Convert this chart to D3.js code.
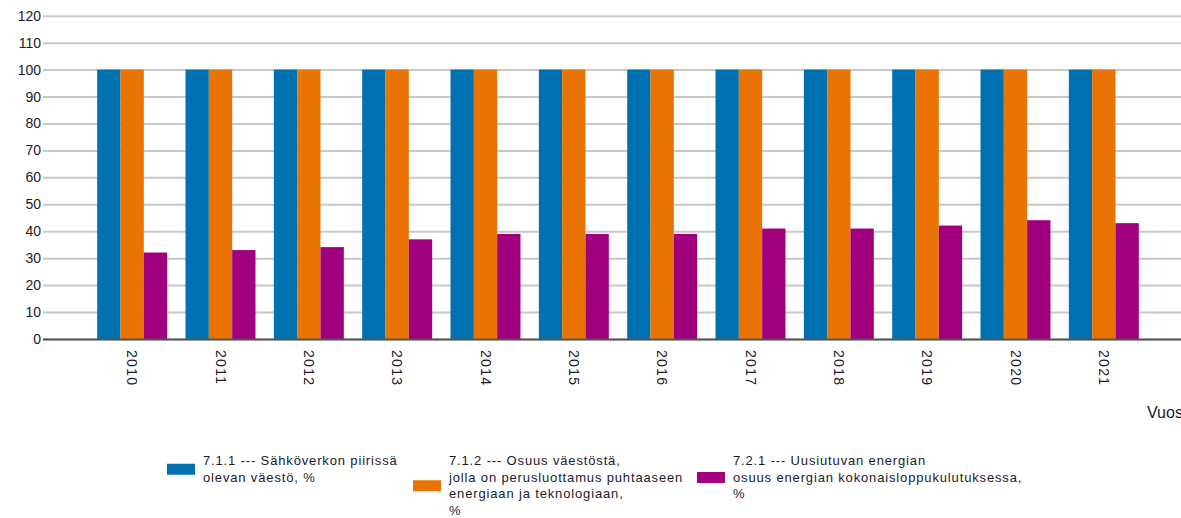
<!DOCTYPE html>
<html>
<head>
<meta charset="utf-8">
<script src="https://cdn.jsdelivr.net/npm/d3@7"></script>
<style>
  html, body { margin: 0; padding: 0; background: #fff; }
  svg { display: block; }
</style>
</head>
<body>
<div id="chart"></div>
<script>
const years = ["2010","2011","2012","2013","2014","2015","2016","2017","2018","2019","2020","2021"];
const seriesNames = [
  ["7.1.1 --- Sähköverkon piirissä", "olevan väestö, %"],
  ["7.1.2 --- Osuus väestöstä,", "jolla on perusluottamus puhtaaseen", "energiaan ja teknologiaan,", "%"],
  ["7.2.1 --- Uusiutuvan energian", "osuus energian kokonaisloppukulutuksessa,", "%"]
];
const s711 = [100,100,100,100,100,100,100,100,100,100,100,100];
const s712 = [100,100,100,100,100,100,100,100,100,100,100,100];
const s721 = [32.1,33.0,34.1,37.0,39.0,39.0,39.0,41.0,41.0,42.1,44.1,43.0];
const yTicks = [0,10,20,30,40,50,60,70,80,90,100,110,120];
const colors = ["#0071B0","#EA7403","#A0007E"];
const xTitle = "Vuosi";

const W = 1181, H = 518;
const svg = d3.select("#chart").append("svg").attr("width", W).attr("height", H);

const series = [s711, s712, s721];
const y = d3.scaleLinear().domain([0,120]).range([339, 15.7]);
const x0 = d3.scaleBand().domain(years).range([88, 1148]).paddingInner(0.208).paddingOuter(0.104);
const x1 = d3.scaleBand().domain([0,1,2]).range([0, x0.bandwidth()]);

const font = "'Liberation Sans', Arial, sans-serif";

// gridlines
const grid = svg.append("g").attr("transform", "translate(43,0)")
  .call(d3.axisLeft(y).tickValues(yTicks).tickSize(-(W - 43)).tickFormat(""));
grid.select(".domain").remove();
grid.selectAll("line").attr("stroke", "#c8c8c8").attr("stroke-width", 2);

// y labels
const yAxis = svg.append("g").attr("transform", "translate(41,0)")
  .call(d3.axisLeft(y).tickValues(yTicks).tickSize(0).tickPadding(0));
yAxis.select(".domain").remove();
yAxis.selectAll("text").attr("font-family", font).attr("font-size", 14).attr("fill", "#1a1a2a");

// bars
const groups = svg.append("g").selectAll("g").data(years).join("g")
  .attr("transform", d => `translate(${x0(d)},0)`);
groups.selectAll("rect").data((d, i) => series.map((s, k) => ({k, v: s[i]}))).join("rect")
  .attr("x", d => x1(d.k))
  .attr("width", x1.bandwidth())
  .attr("y", d => y(d.v))
  .attr("height", d => y(0) - y(d.v))
  .attr("fill", d => colors[d.k]);

// x axis line
svg.append("line").attr("x1", 43).attr("x2", W).attr("y1", 339.5).attr("y2", 339.5)
  .attr("stroke", "#555").attr("stroke-width", 2);

// x labels
const xAxis = svg.append("g").attr("transform", "translate(0,340)")
  .call(d3.axisBottom(x0).tickSize(0).tickPadding(0));
xAxis.select(".domain").remove();
xAxis.selectAll("text")
  .attr("font-family", font).attr("font-size", 14).attr("fill", "#1a1a2a")
  .attr("letter-spacing", 1.3)
  .attr("text-anchor", "start").attr("dy", null).attr("y", 0)
  .attr("dominant-baseline", "central")
  .attr("transform", "translate(0,10) rotate(90)");

svg.append("text").attr("x", 1147).attr("y", 418).text(xTitle)
  .attr("font-family", font).attr("font-size", 16).attr("fill", "#1a1a2a");

// legend
const legendX = [167, 413, 697];
const lineH = 16.5, topY = 465;
seriesNames.forEach((lines, i) => {
  const g = svg.append("g");
  const n = lines.length;
  const midY = topY - 4 + (n - 1) * lineH / 2;
  g.append("rect").attr("x", legendX[i]).attr("y", midY - 5.5).attr("width", 28).attr("height", 11)
    .attr("fill", colors[i]);
  lines.forEach((t, j) => {
    g.append("text").attr("x", legendX[i] + 36).attr("y", topY + j * lineH).text(t)
      .attr("font-family", font).attr("font-size", 13).attr("letter-spacing", 0.85).attr("fill", "#1a1a2a");
  });
});
</script>
</body>
</html>
